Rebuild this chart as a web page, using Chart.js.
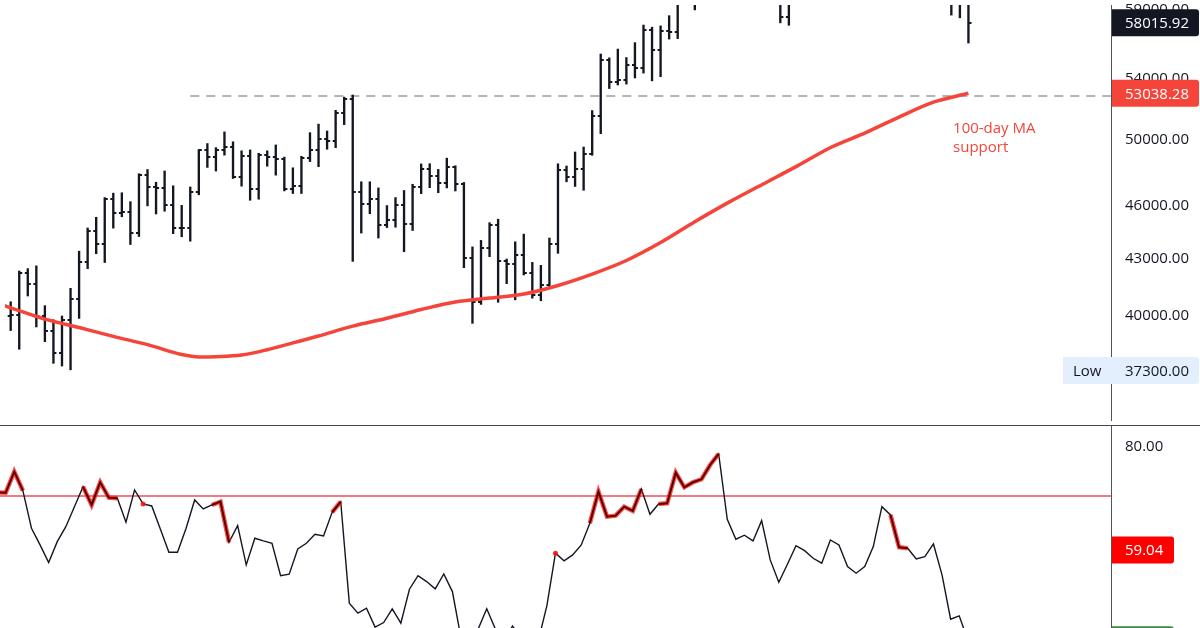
<!DOCTYPE html>
<html>
<head>
<meta charset="utf-8">
<script src="https://cdn.jsdelivr.net/npm/chart.js@4.4.1/dist/chart.umd.min.js"></script>
<style>
  html, body { margin: 0; padding: 0; background: #fff; }
  #wrap { width: 1200px; height: 628px; overflow: hidden; }
  #top { width: 1200px; height: 425px; position: relative; }
  #sep { width: 1200px; height: 1px; background: #434651; }
  #bottom { width: 1200px; height: 202px; position: relative; }
</style>
</head>
<body>
<div id="wrap">
  <div id="top"><canvas id="price"></canvas></div>
  <div id="sep"></div>
  <div id="bottom"><canvas id="rsi"></canvas></div>
</div>
<script>
// daily bars, day 0 = 29 Jul 2021, last bar (day 112) still open
const opens = [39995, 40010, 42235, 41626, 39974, 39201, 38152, 39747, 40869, 42816,
  44555, 43798, 46366, 45585, 45593, 44428, 47793, 47096, 47047, 46004,
  44695, 44714, 46760, 49339, 48905, 49321, 49546, 47706, 48960, 46942,
  49058, 48897, 48767, 46970, 47166, 48847, 49327, 50025, 49944, 51753,
  52633, 46811, 46091, 46391, 44843, 45173, 46026, 44941, 47112, 48147,
  47754, 47304, 48314, 47260, 43012, 40693, 43574, 44896, 42840, 42716,
  43208, 42236, 41034, 41564, 43790, 48116, 47711, 48199, 49112, 51514,
  55361, 53805, 53967, 54968, 54772, 57485, 56006, 57367, 57347, 61672,
  60875, 61528, 62009, 64280, 66001, 62193, 60688, 61286, 60852, 63078,
  60328, 58413, 60575, 62253, 61859, 61299, 60911, 63219, 62896, 61395,
  60937, 61470, 63273, 67525, 66947, 64882, 64774, 64122, 64380, 65519,
  63606, 60058, 60344];
const highs = [40700, 42320, 42450, 42600, 40500, 39780, 39970, 41400, 43400, 44700,
  45310, 46456, 46720, 46743, 46218, 47886, 48144, 47372, 48053, 47160,
  46000, 47088, 49382, 49757, 49500, 50500, 49870, 49300, 49355, 49149,
  49300, 49667, 48908, 48250, 48960, 50450, 51000, 50558, 51900, 52780,
  52920, 47400, 47399, 47033, 45988, 46460, 46880, 47250, 48486, 48500,
  48150, 48843, 48370, 47358, 43639, 44000, 45000, 45200, 42970, 43920,
  44350, 42787, 42627, 44132, 48495, 48358, 49228, 49536, 51886, 55750,
  55480, 56100, 55500, 56561, 57839, 57680, 57777, 58532, 62933, 62360,
  61720, 62700, 64486, 67000, 66639, 63732, 61747, 61500, 63710, 63293,
  61496, 62499, 62980, 62359, 62405, 62437, 64270, 63500, 63086, 62595,
  61560, 63286, 67789, 68524, 69000, 65600, 65450, 65000, 65550, 66401,
  63620, 60840, 60976];
const lows = [39240, 38320, 41000, 39420, 38690, 37640, 37510, 37330, 39850, 42450,
  43260, 42780, 44690, 45340, 43770, 44217, 45971, 45500, 45660, 44376,
  44203, 43955, 46622, 48273, 48050, 49029, 47600, 47138, 46300, 46364,
  48346, 47801, 46853, 46700, 46700, 48633, 48316, 49400, 49500, 50969,
  42843, 44412, 45514, 44132, 44722, 44742, 43370, 44555, 46692, 47045,
  46750, 47033, 46850, 42500, 39600, 40565, 43100, 40675, 41646, 40800,
  42111, 40888, 40753, 41410, 43283, 47400, 47120, 46891, 49022, 50382,
  53357, 53600, 53661, 54080, 54415, 53879, 54167, 56818, 56850, 60150,
  58963, 59844, 61322, 63482, 62000, 60000, 59562, 59510, 60650, 59817,
  58000, 57820, 60174, 60673, 59945, 59405, 60624, 60382, 60677, 60721,
  60050, 61322, 63273, 66222, 62822, 64100, 62278, 63360, 63576, 63400,
  58574, 58373, 56530];
const closes = [40010, 42235, 41626, 39974, 39201, 38152, 39747, 40869, 42816, 44555,
  43798, 46366, 45585, 45593, 44428, 47793, 47096, 47047, 46004, 44695,
  44714, 46760, 49339, 48905, 49321, 49546, 47706, 48960, 46942, 49058,
  48897, 48767, 46970, 47166, 48847, 49327, 50025, 49944, 51753, 52633,
  46811, 46091, 46391, 44843, 45173, 46026, 44941, 47112, 48147, 47754,
  47304, 48314, 47260, 43012, 40693, 43574, 44896, 42840, 42716, 43208,
  42236, 41034, 41564, 43790, 48116, 47711, 48199, 49112, 51514, 55361,
  53805, 53967, 54968, 54772, 57485, 56006, 57367, 57347, 61672, 60875,
  61528, 62009, 64280, 66001, 62193, 60688, 61286, 60852, 63078, 60328,
  58413, 60575, 62253, 61859, 61299, 60911, 63219, 62896, 61395, 60937,
  61470, 63273, 67525, 66947, 64882, 64774, 64122, 64380, 65519, 63606,
  60058, 60344, 58015.92];

// 100-day moving average, read at these days
const maDays = [-1, 0, 4, 8, 12, 16, 20, 22, 24, 27, 30, 33, 36, 40, 44, 48, 52, 56,
  60, 64, 68, 72, 76, 80, 84, 88, 92, 96, 100, 104, 108, 112];
const maValues = [40535, 40390, 39816, 39390, 38950, 38545, 38065, 37947, 37960, 38037,
  38296, 38630, 38970, 39460, 39860, 40300, 40685, 40890, 41100, 41550, 42155, 42890,
  43878, 45053, 46190, 47265, 48365, 49537, 50456, 51490, 52457, 53038.28];

// RSI, first value is day -1
const rsiStart = -1;
const rsiValues = [70.7, 70.67, 74.93, 71.08, 63.45, 60.06, 56.47, 60.73, 63.77, 67.83,
  71.89, 68.17, 72.78, 69.66, 69.53, 64.67, 71.22, 68.38, 67.97, 63.31,
  58.58, 58.58, 63.45, 69.19, 67.36, 68.17, 68.84, 60.61, 63.98, 56.0,
  61.42, 60.87, 60.41, 53.83, 54.12, 59.25, 60.41, 62.23, 61.89, 66.69,
  68.84, 48.24, 46.21, 47.22, 43.37, 44.30, 47.08, 44.18, 51.07, 53.83,
  52.62, 51.14, 54.18, 50.59, 41.2, 37.0, 43.0, 47.1, 43.0, 40.5,
  43.6, 41.0, 39.0, 40.6, 47.75, 58.38, 56.82, 58.03, 60.06, 64.46,
  70.87, 65.80, 66.0, 67.83, 66.96, 71.42, 66.29, 68.38, 68.52, 74.73,
  71.76, 72.78, 73.39, 76.29, 78.52, 65.27, 61.22, 62.03, 60.87, 64.99,
  57.02, 52.50, 56.15, 59.92, 58.90, 57.36, 56.35, 61.07, 60.06, 55.66,
  54.32, 55.66, 59.72, 67.83, 66.15, 59.59, 59.39, 57.22, 57.69, 60.26,
  53.98, 44.99, 45.66, 40.8];
// stretches of the RSI line drawn in red
const rsiHot = [[-1, 2], [9, 13], [16, 16], [24, 26], [38, 39], [64, 64], [68, 74], [76, 83], [103, 105]];

const priceTicks = [40000, 43000, 46000, 50000, 54000, 58000, 59000];
const rsiTicks = [80];
const lastPrice = 58015.92;
const maLast = 53038.28;
const periodLow = 37300;
const supportLevel = 52850;
const supportFrom = 21;
const rsiLevel = 70;
const rsiMarker = 59.04;
const noteLines = ['100-day MA', 'support'];
const noteDay = 110.2, notePrice = 50690;

const xMin = -0.664, xMax = 128.67;
const FONT = "'Open Sans', 'Noto Sans', sans-serif";
const INK = '#131722';
const RED = '#f5443a';

Chart.defaults.font.family = FONT;
Chart.defaults.font.size = 15;
Chart.defaults.color = INK;

const days = opens.map((_, i) => i);

function tickImage(left) {
  const c = document.createElement('canvas');
  c.width = 8; c.height = 2;
  const g = c.getContext('2d');
  g.fillStyle = INK;
  g.fillRect(left ? 1 : 4, 0, 3, 2);
  return c;
}

function tag(ctx, x0, x1, yc, fill, color, text, tx) {
  const h = 27;
  ctx.save();
  ctx.fillStyle = fill;
  ctx.beginPath();
  ctx.roundRect(x0, yc - h / 2, x1 - x0, h, [0, 3, 3, 0]);
  ctx.fill();
  ctx.fillStyle = color;
  ctx.font = '15px ' + FONT;
  ctx.textAlign = 'left';
  ctx.textBaseline = 'middle';
  ctx.fillText(text, tx, yc + 1);
  ctx.restore();
}

const axisWidth = (scale) => { scale.width = 89; scale.paddingTop = 0; scale.paddingBottom = 0; };

const priceTags = {
  id: 'priceTags',
  afterDraw(chart) {
    const { ctx } = chart;
    const y = chart.scales.y, x = chart.scales.x;
    const L = y.left;
    // annotation
    ctx.save();
    ctx.fillStyle = RED;
    ctx.font = '15px ' + FONT;
    ctx.textBaseline = 'middle';
    const nx = x.getPixelForValue(noteDay), ny = y.getPixelForValue(notePrice);
    noteLines.forEach((s, k) => ctx.fillText(s, nx, ny + k * 19));
    ctx.restore();
    tag(ctx, L + 1, 1199, y.getPixelForValue(lastPrice), INK, '#fff', lastPrice.toFixed(2), L + 14);
    tag(ctx, L + 1, 1199, y.getPixelForValue(maLast), RED, '#fff', maLast.toFixed(2), L + 14);
    const ly = y.getPixelForValue(periodLow);
    tag(ctx, L - 48, 1199, ly, '#e3effd', INK, periodLow.toFixed(2), L + 14);
    ctx.save();
    ctx.fillStyle = INK;
    ctx.font = '15px ' + FONT;
    ctx.textBaseline = 'middle';
    ctx.fillText('Low', L - 38, ly + 1);
    ctx.restore();
  }
};

new Chart(document.getElementById('price'), {
  type: 'bar',
  data: {
    datasets: [
      {
        type: 'line', order: 5,
        data: [{ x: supportFrom, y: supportLevel }, { x: xMax, y: supportLevel }],
        borderColor: '#9a9ca3', borderWidth: 1.6, borderDash: [9, 7], pointRadius: 0
      },
      {
        type: 'bar', order: 3,
        data: days.map(i => ({ x: i, y: [lows[i], highs[i]] })),
        backgroundColor: INK, barThickness: 1.7, borderWidth: 0
      },
      {
        type: 'line', order: 2, showLine: false,
        data: days.map(i => ({ x: i, y: opens[i] })),
        pointStyle: tickImage(true), pointRadius: 3
      },
      {
        type: 'line', order: 2, showLine: false,
        data: days.map(i => ({ x: i, y: closes[i] })),
        pointStyle: tickImage(false), pointRadius: 3
      },
      {
        type: 'line', order: 1,
        data: maDays.map((d, k) => ({ x: d, y: maValues[k] })),
        borderColor: RED, borderWidth: 3.5, pointRadius: 0,
        cubicInterpolationMode: 'monotone'
      }
    ]
  },
  options: {
    responsive: true, maintainAspectRatio: false, animation: false, events: [],
    layout: { padding: 0 },
    plugins: { legend: { display: false }, tooltip: { enabled: false } },
    scales: {
      x: { type: 'linear', min: xMin, max: xMax, display: false, offset: false },
      y: {
        type: 'logarithmic', position: 'right', min: 35026, max: 59330,
        grid: { display: false, drawTicks: false },
        border: { display: true, color: '#50535e', width: 1 },
        afterBuildTicks: (s) => { s.ticks = priceTicks.map(v => ({ value: v })); },
        afterFit: axisWidth,
        ticks: { padding: 14, autoSkip: false, callback: (v) => Number(v).toFixed(2) }
      }
    }
  },
  plugins: [priceTags]
});

const hotData = rsiValues.map((v, k) => {
  const d = rsiStart + k;
  return rsiHot.some(([a, b]) => d >= a && d <= b) ? v : null;
});
const isolated = (c) => {
  const i = c.dataIndex;
  if (i === undefined) return 0;
  return hotData[i] != null && hotData[i - 1] == null && hotData[i + 1] == null ? 2.5 : 0;
};
const rsiPoints = (arr) => arr.map((v, k) => ({ x: rsiStart + k, y: v }));

const rsiTags = {
  id: 'rsiTags',
  afterDraw(chart) {
    const { ctx } = chart;
    const y = chart.scales.y;
    const L = y.left;
    tag(ctx, L + 1, 1174, y.getPixelForValue(rsiMarker), '#ff0000', '#fff', rsiMarker.toFixed(2), L + 14);
    const last = rsiValues[rsiValues.length - 1];
    tag(ctx, L + 1, 1174, y.getPixelForValue(last), '#388e3c', '#fff', last.toFixed(2), L + 14);
  }
};

new Chart(document.getElementById('rsi'), {
  type: 'line',
  data: {
    datasets: [
      {
        order: 4,
        data: [{ x: xMin, y: rsiLevel }, { x: xMax, y: rsiLevel }],
        borderColor: '#ef4f55', borderWidth: 1.4, pointRadius: 0
      },
      {
        order: 3,
        data: rsiPoints(rsiValues),
        borderColor: INK, borderWidth: 1.4, pointRadius: 0
      },
      {
        order: 2,
        data: rsiPoints(hotData),
        borderColor: 'rgba(255,20,20,0.75)', borderWidth: 4.5,
        pointRadius: isolated, pointBackgroundColor: 'rgba(255,20,20,0.9)', pointBorderWidth: 0
      },
      {
        order: 1,
        data: rsiPoints(hotData),
        borderColor: '#5c0000', borderWidth: 2, pointRadius: 0
      }
    ]
  },
  options: {
    responsive: true, maintainAspectRatio: false, animation: false, events: [],
    layout: { padding: 0 },
    plugins: { legend: { display: false }, tooltip: { enabled: false } },
    scales: {
      x: { type: 'linear', min: xMin, max: xMax, display: false, offset: false },
      y: {
        type: 'linear', position: 'right', min: 43.2, max: 84.2,
        grid: { display: false, drawTicks: false },
        border: { display: true, color: '#50535e', width: 1 },
        afterBuildTicks: (s) => { s.ticks = rsiTicks.map(v => ({ value: v })); },
        afterFit: axisWidth,
        ticks: { padding: 14, callback: (v) => Number(v).toFixed(2) }
      }
    }
  },
  plugins: [rsiTags]
});
</script>
</body>
</html>
